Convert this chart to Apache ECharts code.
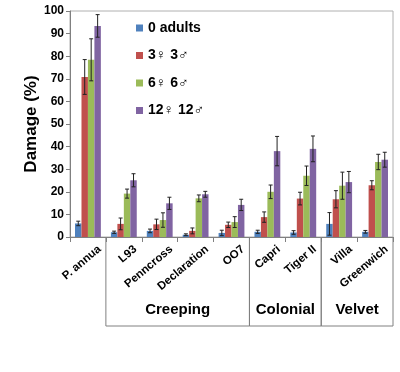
<!DOCTYPE html>
<html><head><meta charset="utf-8">
<script src="https://cdn.jsdelivr.net/npm/echarts@6/dist/echarts.min.js"></script>
<style>html,body{margin:0;padding:0;background:#fff}#c{width:400px;height:372px}</style>
</head><body><div id="c"></div>
<script>
const categories = ['P. annua','L93','Penncross','Declaration','OO7','Capri','Tiger II','Villa','Greenwich'];
const seriesNames = ['0 adults','3♀ 3♂','6♀ 6♂','12♀ 12♂'];
const adults0 = [6, 2.1, 2.7, 1, 1.8, 2.3, 2, 5.8, 2.3];
const adults0Err = [1, 0.5, 0.8, 0.4, 1.2, 0.7, 0.8, 5, 0.6];
const adults3 = [70.8, 5.8, 5.6, 2.7, 5.4, 8.8, 17, 16.7, 22.9];
const adults3Err = [7.7, 2.6, 2.3, 1.3, 1.2, 2.3, 2.8, 3.8, 2];
const adults6 = [78.4, 19.2, 7.5, 17.1, 6.6, 20, 27.1, 22.7, 33.2];
const adults6Err = [9.3, 2, 3.2, 1.5, 2.4, 3, 4.3, 6, 3.4];
const adults12 = [93.4, 25.1, 14.9, 18.9, 14.2, 38, 39, 24.3, 34.2];
const adults12Err = [5, 2.9, 2.7, 1.3, 2.5, 6.5, 5.7, 4.7, 3.3];
const groups = [['Creeping',1,4],['Colonial',5,6],['Velvet',7,8]];
const yTicks = {min:0, max:100, interval:10};

const colors = ['#4F81BD','#C0504D','#9BBB59','#8064A2'];
const values = [adults0, adults3, adults6, adults12];
const errs = [adults0Err, adults3Err, adults6Err, adults12Err];
const catGap = 0.28;
const font = 'Liberation Sans, Arial, sans-serif';

const chart = echarts.init(document.getElementById('c'), null, {renderer:'canvas'});
const series = [];
values.forEach((vals,i)=>{
  series.push({
    name: seriesNames[i], type:'bar', data: vals,
    barCategoryGap: (catGap*100)+'%', barGap:'0%',
    itemStyle:{color:colors[i]}, z:2
  });
});
values.forEach((vals,i)=>{
  series.push({
    type:'custom', name: seriesNames[i]+' err', z:5, silent:true,
    data: vals.map((v,k)=>[k, v, errs[i][k]]),
    renderItem:(params, api)=>{
      const k = api.value(0), v = api.value(1), e = api.value(2);
      const bw = api.size([1,0])[0];
      const barW = bw*(1-catGap)/4;
      const c = api.coord([k, v]);
      const x = c[0] + (i-1.5)*barW;
      const top = api.coord([k, v+e])[1];
      const bot = api.coord([k, v-e])[1];
      const cap = 2;
      const st = {stroke:'#222', lineWidth:1};
      return {type:'group', children:[
        {type:'line', shape:{x1:x,y1:top,x2:x,y2:bot}, style:st},
        {type:'line', shape:{x1:x-cap,y1:top,x2:x+cap,y2:top}, style:st},
        {type:'line', shape:{x1:x-cap,y1:bot,x2:x+cap,y2:bot}, style:st}
      ]};
    },
    encode:{x:0,y:1}
  });
});
// group box
series.push({
  type:'custom', silent:true, z:5, clip:false,
  data: groups.map(g=>[g[1], g[2], g[0]]),
  renderItem:(params, api)=>{
    const s = api.value(0), e = api.value(1), name = api.value(2);
    const bw = api.size([1,0])[0];
    const x1 = api.coord([s,0])[0] - bw/2;
    const x2 = api.coord([e,0])[0] + bw/2;
    const y0 = api.coord([s,0])[1];
    const yb = y0 + 89;
    const st = {stroke:'#808080', lineWidth:1};
    const ch = [
      {type:'line', shape:{x1:x1,y1:y0,x2:x1,y2:yb}, style:st},
      {type:'line', shape:{x1:x2,y1:y0,x2:x2,y2:yb}, style:st},
      {type:'line', shape:{x1:x1,y1:yb,x2:x2,y2:yb}, style:st},
      {type:'text', style:{text:name, x:(x1+x2)/2, y:y0+73, align:'center', verticalAlign:'middle',
        font:'bold 15px '+font, fill:'#000'}}
    ];
    return {type:'group', children:ch};
  },
  encode:{x:0}
});

chart.setOption({
  animation:false,
  color: colors,
  grid:{left:70, right:7, top:11, bottom:135, show:true, borderColor:'#b0b0b0', borderWidth:1},
  legend:{
    orient:'vertical', left:131, top:16, itemGap:13.5, itemWidth:7, itemHeight:7,
    icon:'rect', data: seriesNames,
    textStyle:{fontFamily:font, fontWeight:'bold', fontSize:14, color:'#000'}
  },
  xAxis:{
    type:'category', data: categories,
    axisLine:{lineStyle:{color:'#808080'}},
    axisTick:{show:true, alignWithLabel:false, length:5, lineStyle:{color:'#808080'}},
    axisLabel:{rotate:40, interval:0, margin:-3, verticalAlign:'top', padding:[12,0,0,0],
      fontFamily:font, fontWeight:'bold', fontSize:11.5, color:'#000'}
  },
  yAxis:{
    type:'value', min:yTicks.min, max:yTicks.max, interval:yTicks.interval,
    name:'Damage (%)', nameLocation:'middle', nameGap:30, nameMoveOverlap:false,
    nameTextStyle:{fontFamily:font, fontWeight:'bold', fontSize:17, color:'#000'},
    splitLine:{show:false},
    axisLine:{show:true, lineStyle:{color:'#808080'}},
    axisTick:{show:true, length:4, lineStyle:{color:'#808080'}},
    axisLabel:{fontFamily:font, fontWeight:'bold', fontSize:12, color:'#000', margin:6}
  },
  series: series
});
</script></body></html>
